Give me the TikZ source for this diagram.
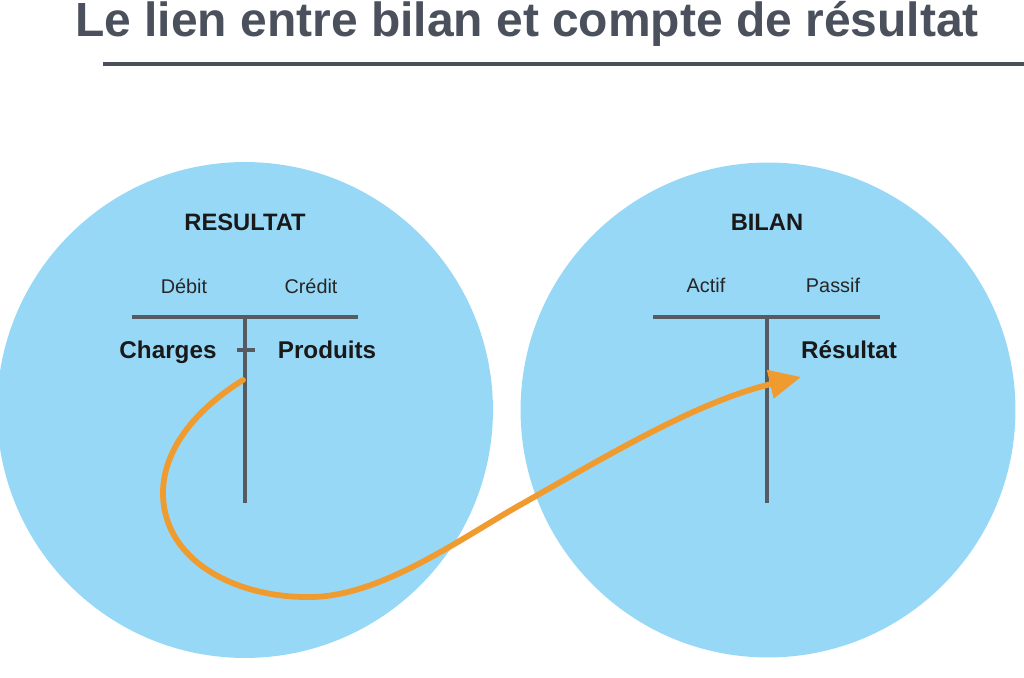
\documentclass[tikz,border=0pt]{standalone}
\usepackage{fontspec}
\setmainfont{Liberation Sans}
\usepackage{tikz}
\usetikzlibrary{arrows.meta}
\definecolor{titlegrey}{HTML}{4A505C}
\definecolor{circleblue}{HTML}{98D8F7}
\definecolor{tgrey}{HTML}{555B61}
\definecolor{floworange}{HTML}{F09B30}

\begin{document}
\begin{tikzpicture}[
    x=0.02cm, y=-0.02cm,
    every node/.style={inner sep=0pt, anchor=base},
    bubble/.style={fill=circleblue, draw=none},
    heading/.style={font=\fontsize{13.5}{16}\selectfont\bfseries, text=black!90},
    side/.style={font=\fontsize{11.3}{13}\selectfont, text=black!85},
    entry/.style={font=\fontsize{13.8}{16}\selectfont\bfseries, text=black!90},
    tline/.style={draw=tgrey, line width=2pt},
    flow/.style={draw=floworange, line width=3.3pt, line cap=round,
        -{Triangle[length=18pt,width=16pt]}}
]
\useasboundingbox (0,0) rectangle (1024,678);

% title
\node[font=\fontsize{27.3}{32}\selectfont\bfseries, text=titlegrey] (title) at (527,37)
    {Le lien entre bilan et compte de résultat};
\draw[titlegrey, line width=2.3pt] (103,64) -- (1024,64);

% the two circles
\fill[bubble] (245,410) circle[radius=4.96cm];
\fill[bubble] (768,410) circle[radius=4.95cm];

% compte de resultat
\node[heading] (resultat) at (245,231) {RESULTAT};
\node[side] (debit) at (184,294) {Débit};
\node[side] (credit) at (311,294) {Crédit};
\draw[tline] (132,317) -- (358,317);
\draw[tline] (245,317) -- (245,503);
\node[entry] (charges) at (168,359) {Charges};
\node[entry] (produits) at (327,359) {Produits};
\draw[tgrey, line width=1.9pt] (237,350) -- (255,350);

% bilan
\node[heading] (bilan) at (767,231) {BILAN};
\node[side] (actif) at (706,293) {Actif};
\node[side] (passif) at (833,293) {Passif};
\draw[tline] (653,317) -- (880,317);
\draw[tline] (767,317) -- (767,503);
\node[entry] (resbilan) at (849,359) {Résultat};

% le resultat passe au bilan
\coordinate (chargesout) at (243,380);
\coordinate (resultin) at (801,377);
\draw[flow] (chargesout)
    .. controls (195,410) and (163,450) .. (163,493)
    .. controls (163,560) and (235,598) .. (310,597)
    .. controls (380,597) and (460,539) .. (520,505)
    .. controls (600,460) and (695,402) .. (resultin);
\end{tikzpicture}
\end{document}
